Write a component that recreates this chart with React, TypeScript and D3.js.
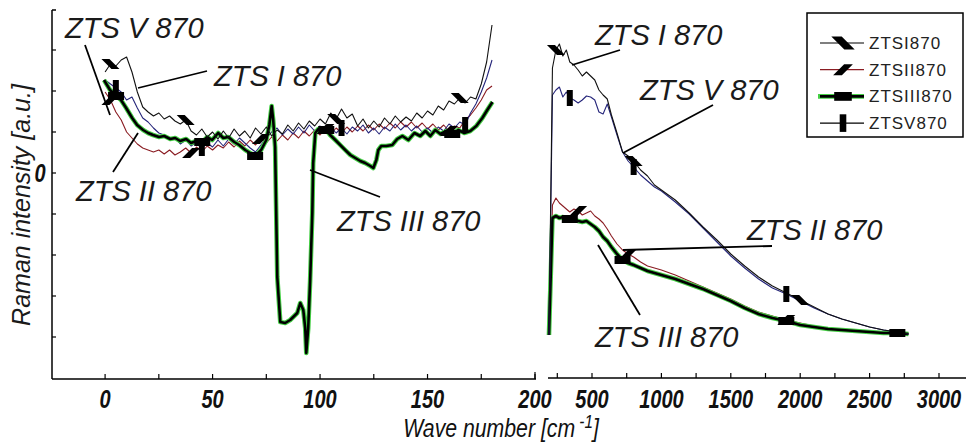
import React from 'react';
import * as d3 from 'd3';

// ---------- data ----------
const leftWave = [0,2.5,5,7.5,10,12.5,15,17.5,20,22.5,25,27.5,30,32.5,35,37.5,40,42.5,45,47.5,50,52.5,55,57.5,60,62.5,65,67.5,70,72.5,75,77.5,80,82.5,85,87.5,90,92.5,95,97.5,100,102.5,105,107.5,110,112.5,115,117.5,120,122.5,125,127.5,130,132.5,135,137.5,140,142.5,145,147.5,150,152.5,155,157.5,160,162.5,165,167.5,170,172.5,175,177.5,180];
const leftI = [101,109,107,113,116,101,81,66,61,57,60,54,57,52,49,53,42,38,44,36,41,34,42,35,44,37,42,35,45,39,46,37,43,39,48,42,50,44,52,47,54,49,60,54,64,55,59,47,54,45,52,46,55,49,57,51,56,52,60,55,62,58,67,63,72,69,75,70,76,74,89,111,148];
const leftII = [81,73,61,53,41,35,29,25,23,21,23,19,23,18,21,25,20,26,21,27,23,28,25,31,26,32,27,33,28,34,30,36,32,38,33,40,35,42,37,43,38,44,39,45,40,46,41,47,42,48,43,49,44,50,45,51,46,51,45,50,44,49,43,48,42,47,45,53,58,65,73,83,87];
const leftV = [93,89,85,81,73,76,65,55,51,45,40,38,33,35,29,33,27,31,25,30,26,33,27,34,29,35,30,25,21,28,35,41,45,38,44,39,46,40,48,42,47,41,46,40,45,39,46,42,48,40,45,39,46,42,49,43,48,42,47,41,45,40,46,42,49,45,51,48,60,69,81,95,113];
const leftIIIWave = [-0.5,2.3,5.1,7.4,9.8,12.6,14.9,17.7,20.0,22.3,25.1,27.5,30.3,32.6,34.9,37.7,40.0,42.4,45.2,47.5,49.8,52.6,55.0,57.3,60.1,62.4,65.2,67.5,69.8,72.6,75.0,76.4,77.5,78.2,79.1,80.1,81.5,83.8,86.1,89.4,90.8,92.2,93.1,93.6,94.5,95.4,96.4,96.8,97.8,99.2,101.0,102.9,104.7,107.1,109.4,111.7,114.1,116.4,118.7,121.0,123.4,124.8,126.2,127.1,128.5,130.8,133.6,135.9,138.3,141.1,143.9,146.6,149.0,151.3,153.6,156.0,158.8,161.5,164.3,167.1,169.9,172.7,175.5,177.8,180.2];
const leftIII = [93,83,77,73,65,55,48,43,40,38,36,37,34,35,32,34,30,32,31,36,33,40,35,36,31,28,23,20,17,23,33,48,67,53,26,-104,-149,-150,-147,-140,-130,-137,-155,-180,-155,-107,-40,10,40,44,42,43,38,33,28,23,18,15,12,10,7,5,13,23,27,27,28,34,37,33,40,37,42,37,43,39,42,39,43,40,42,47,55,63,71];

const rightWave = [190,215,240,265,290,315,340,370,400,430,460,490,520,550,580,610,640,680,720,760,800,850,900,950,1000,1100,1200,1300,1400,1500,1600,1700,1800,1900,2000,2100,2200,2300,2400,2500,2600,2700,2780];
const rightI = [-162,105,123,129,117,123,111,108,103,97,101,97,93,83,78,74,58,40,21,17,12,3,-3,-12,-17,-27,-40,-54,-67,-81,-93,-104,-113,-120,-127,-134,-141,-146,-150,-154,-157,-159,-161];
const rightV = [-162,78,83,86,76,81,75,73,70,73,77,76,73,61,59,69,56,38,21,12,6,-2,-8,-14,-18,-29,-41,-55,-69,-83,-95,-106,-115,-121,-128,-135,-141,-146,-150,-154,-157,-159,-161];
const rightII = [-162,-32,-25,-30,-33,-36,-39,-36,-38,-42,-40,-38,-43,-46,-50,-56,-63,-71,-77,-81,-84,-89,-93,-95,-97,-102,-108,-114,-120,-126,-133,-139,-143,-147,-150,-153,-155,-156,-157,-158,-159,-160,-161];
const rightIII = [-162,-45,-43,-45,-44,-46,-46,-47,-48,-49,-48,-51,-54,-58,-64,-68,-74,-81,-87,-90,-92,-95,-98,-100,-102,-106,-111,-116,-122,-128,-135,-141,-145,-148,-152,-154,-156,-157,-158,-159,-160,-160,-161];

// marker wave numbers
const markLeftI = [2.5, 37.5, 107.5, 165];
const markLeftII = [2.5, 40, 72.5, 102.5, 160];
const markLeftIII = [5, 45, 70, 102, 162];
const markLeftV = [5, 45, 110, 167.5];
const markRightI = [240, 810, 2020];
const markRightII = [400, 750, 1860];
const markRightIII = [330, 710, 1950, 2740];
const markRightV = [340, 810, 1920];

const leftTicks = [0, 25, 50, 75, 100, 125, 150, 175, 200];
const leftLabels = [0, 50, 100, 150, 200];
const rightTicks = [250, 500, 750, 1000, 1250, 1500, 1750, 2000, 2250, 2500, 2750, 3000, 3250];
const rightLabels = [500, 1000, 1500, 2000, 2500, 3000];
const yTicks = [-164, -123, -82, -41, 0, 41, 82, 123];

const legendNames = ['ZTSI870', 'ZTSII870', 'ZTSIII870', 'ZTSV870'];

// ---------- scales ----------
const xL = d3.scaleLinear().domain([-24.7, 200]).range([52, 535]);
const xR = d3.scaleLinear().domain([500, 3000]).range([592, 939]);
const y = d3.scaleLinear().domain([-207, 163]).range([380, 10]);

type Kind = 'I' | 'II' | 'III' | 'V';

const Marker = ({ kind, x, yy, s = 1 }: { kind: Kind; x: number; yy: number; s?: number }) => {
  const t = `translate(${x},${yy}) scale(${s})`;
  if (kind === 'I') return <polygon transform={t} points="-9,-5 -1,-5 9,5 1,5" fill="#000" />;
  if (kind === 'II') return <polygon transform={t} points="1,-5 9,-5 -1,5 -9,5" fill="#000" />;
  if (kind === 'III') return <rect transform={t} x={-8} y={-4} width={16} height={8} fill="#000" />;
  return <rect transform={t} x={-3} y={-8} width={6} height={16} fill="#000" />;
};

function markersFor(kind: Kind, xs: number[], ys: number[], marks: number[], sx: d3.ScaleLinear<number, number>) {
  return marks.map((m, i) => {
    let best = 0;
    xs.forEach((v, j) => { if (Math.abs(v - m) < Math.abs(xs[best] - m)) best = j; });
    return <Marker key={kind + i} kind={kind} x={sx(xs[best])} yy={y(ys[best])} />;
  });
}

const styles: Record<Kind, { stroke: string; width: number; halo?: string }> = {
  I: { stroke: '#111', width: 1.1 },
  II: { stroke: '#8a1c22', width: 1.1 },
  III: { stroke: '#000', width: 2.6, halo: '#45cf45' },
  V: { stroke: '#25257a', width: 1.1 },
};

function Path({ kind, xs, ys, sx }: { kind: Kind; xs: number[]; ys: number[]; sx: d3.ScaleLinear<number, number> }) {
  const line = d3.line<number>().x((_, i) => sx(xs[i])).y((v) => y(v));
  const d = line(ys) || '';
  const st = styles[kind];
  return (
    <g>
      {st.halo && <path d={d} fill="none" stroke={st.halo} strokeWidth={4.6} strokeLinejoin="round" />}
      <path d={d} fill="none" stroke={st.stroke} strokeWidth={st.width} strokeLinejoin="round" />
    </g>
  );
}

const ann = { fontFamily: 'Liberation Sans, Arial, sans-serif', fontStyle: 'italic' as const, fontSize: 29, fill: '#1a1a1a' };
const tickFont = { fontFamily: 'Liberation Sans, Arial, sans-serif', fontStyle: 'italic' as const, fontWeight: 700 as const, fontSize: 25, fill: '#111' };
const titleFont = { fontFamily: 'Liberation Sans, Arial, sans-serif', fontStyle: 'italic' as const, fontSize: 25, fill: '#111' };

export default function App() {
  const axisY = 379;
  return (
    <div style={{ position: 'absolute', left: 0, top: 0 }}>
      <svg width={966} height={445} style={{ display: 'block', background: '#fff' }}>
        {/* left y axis */}
        <line x1={52} x2={52} y1={10} y2={axisY} stroke="#000" strokeWidth={1.5} />
        <line x1={52} x2={56} y1={10} y2={10} stroke="#000" strokeWidth={1.5} />
        {yTicks.map((t) => (
          <line key={t} x1={52} x2={56} y1={y(t)} y2={y(t)} stroke="#000" strokeWidth={1.2} />
        ))}
        <text transform={`translate(40,${y(0) + 9}) scale(0.8,1)`} textAnchor="middle" style={tickFont}>0</text>

        {/* left x axis */}
        <line x1={52} x2={xL(200) + 1} y1={axisY} y2={axisY} stroke="#000" strokeWidth={1.5} />
        <line x1={xL(200)} x2={xL(200)} y1={axisY} y2={axisY - 7} stroke="#000" strokeWidth={1.2} />
        {leftTicks.map((t) => (
          <line key={t} x1={xL(t)} x2={xL(t)} y1={axisY} y2={axisY - 5} stroke="#000" strokeWidth={1.2} />
        ))}
        {leftLabels.map((t) => (
          <text key={t} transform={`translate(${xL(t)},408) scale(0.8,1)`} textAnchor="middle" style={tickFont}>{t}</text>
        ))}

        {/* right x axis */}
        <line x1={548} x2={966} y1={axisY - 1} y2={axisY - 1} stroke="#000" strokeWidth={1.5} />
        {rightTicks.map((t) => (
          <line key={t} x1={xR(t)} x2={xR(t)} y1={axisY - 1} y2={axisY - 6} stroke="#000" strokeWidth={1.2} />
        ))}
        {rightLabels.map((t) => (
          <text key={t} transform={`translate(${xR(t)},408) scale(0.8,1)`} textAnchor="middle" style={tickFont}>{t}</text>
        ))}

        {/* axis titles */}
        <text transform="translate(501,437) scale(0.85,1)" textAnchor="middle" style={titleFont}>
          Wave number [cm<tspan dx={5} dy={-9} fontSize={18}>-1</tspan><tspan dy={9}>]</tspan>
        </text>
        <text transform="translate(30,205) rotate(-90)" textAnchor="middle" style={{ ...ann, fontSize: 25 }}>
          Raman intensity [a.u.]
        </text>

        {/* left panel curves */}
        <Path kind="II" xs={leftWave} ys={leftII} sx={xL} />
        <Path kind="V" xs={leftWave} ys={leftV} sx={xL} />
        <Path kind="III" xs={leftIIIWave} ys={leftIII} sx={xL} />
        <Path kind="I" xs={leftWave} ys={leftI} sx={xL} />
        {markersFor('I', leftWave, leftI, markLeftI, xL)}
        {markersFor('II', leftWave, leftII, markLeftII, xL)}
        {markersFor('III', leftIIIWave, leftIII, markLeftIII, xL)}
        {markersFor('V', leftWave, leftV, markLeftV, xL)}

        {/* right panel curves */}
        <Path kind="II" xs={rightWave} ys={rightII} sx={xR} />
        <Path kind="III" xs={rightWave} ys={rightIII} sx={xR} />
        <Path kind="V" xs={rightWave} ys={rightV} sx={xR} />
        <Path kind="I" xs={rightWave} ys={rightI} sx={xR} />
        {markersFor('I', rightWave, rightI, markRightI, xR)}
        {markersFor('II', rightWave, rightII, markRightII, xR)}
        {markersFor('III', rightWave, rightIII, markRightIII, xR)}
        {markersFor('V', rightWave, rightV, markRightV, xR)}

        {/* annotations */}
        <g stroke="#000" strokeWidth={1.8}>
          <line x1={85} y1={45} x2={110} y2={115} />
          <line x1={207} y1={71} x2={138} y2={88} />
          <line x1={113} y1={172} x2={138} y2={133} />
          <line x1={310} y1={170} x2={380} y2={197} />
          <line x1={620} y1={50} x2={572} y2={65} />
          <line x1={713} y1={105} x2={623} y2={153} />
          <line x1={623} y1={250} x2={772} y2={246} />
          <line x1={598} y1={245} x2={640} y2={315} />
        </g>
        <text x={65} y={38} style={ann}>ZTS V 870</text>
        <text x={214} y={86} style={ann}>ZTS I 870</text>
        <text x={76} y={201} style={ann}>ZTS II 870</text>
        <text x={337} y={231} style={ann}>ZTS III 870</text>
        <text x={595} y={45} style={ann}>ZTS I 870</text>
        <text x={640} y={100} style={ann}>ZTS V 870</text>
        <text x={747} y={240} style={ann}>ZTS II 870</text>
        <text x={595} y={347} style={ann}>ZTS III 870</text>

        {/* legend */}
        <rect x={807} y={13} width={156} height={124} fill="#fff" stroke="#000" strokeWidth={1.5} />
        {legendNames.map((name, i) => {
          const kinds: Kind[] = ['I', 'II', 'III', 'V'];
          const k = kinds[i];
          const ly = 43 + i * 26.7;
          const st = styles[k];
          return (
            <g key={name}>
              {st.halo && <line x1={818} x2={864} y1={ly} y2={ly} stroke={st.halo} strokeWidth={4.6} />}
              <line x1={820} x2={864} y1={ly} y2={ly} stroke={k === 'II' ? '#8a1c22' : '#000'} strokeWidth={k === 'III' ? 2.6 : 1.2} />
              <Marker kind={k} x={843} yy={ly} s={k === 'I' ? 1.3 : 1.1} />
              <text x={869} y={ly + 6} style={{ fontFamily: 'Liberation Sans, Arial, sans-serif', fontSize: 17, fill: '#222', letterSpacing: 1 }}>{name}</text>
            </g>
          );
        })}
      </svg>
    </div>
  );
}
